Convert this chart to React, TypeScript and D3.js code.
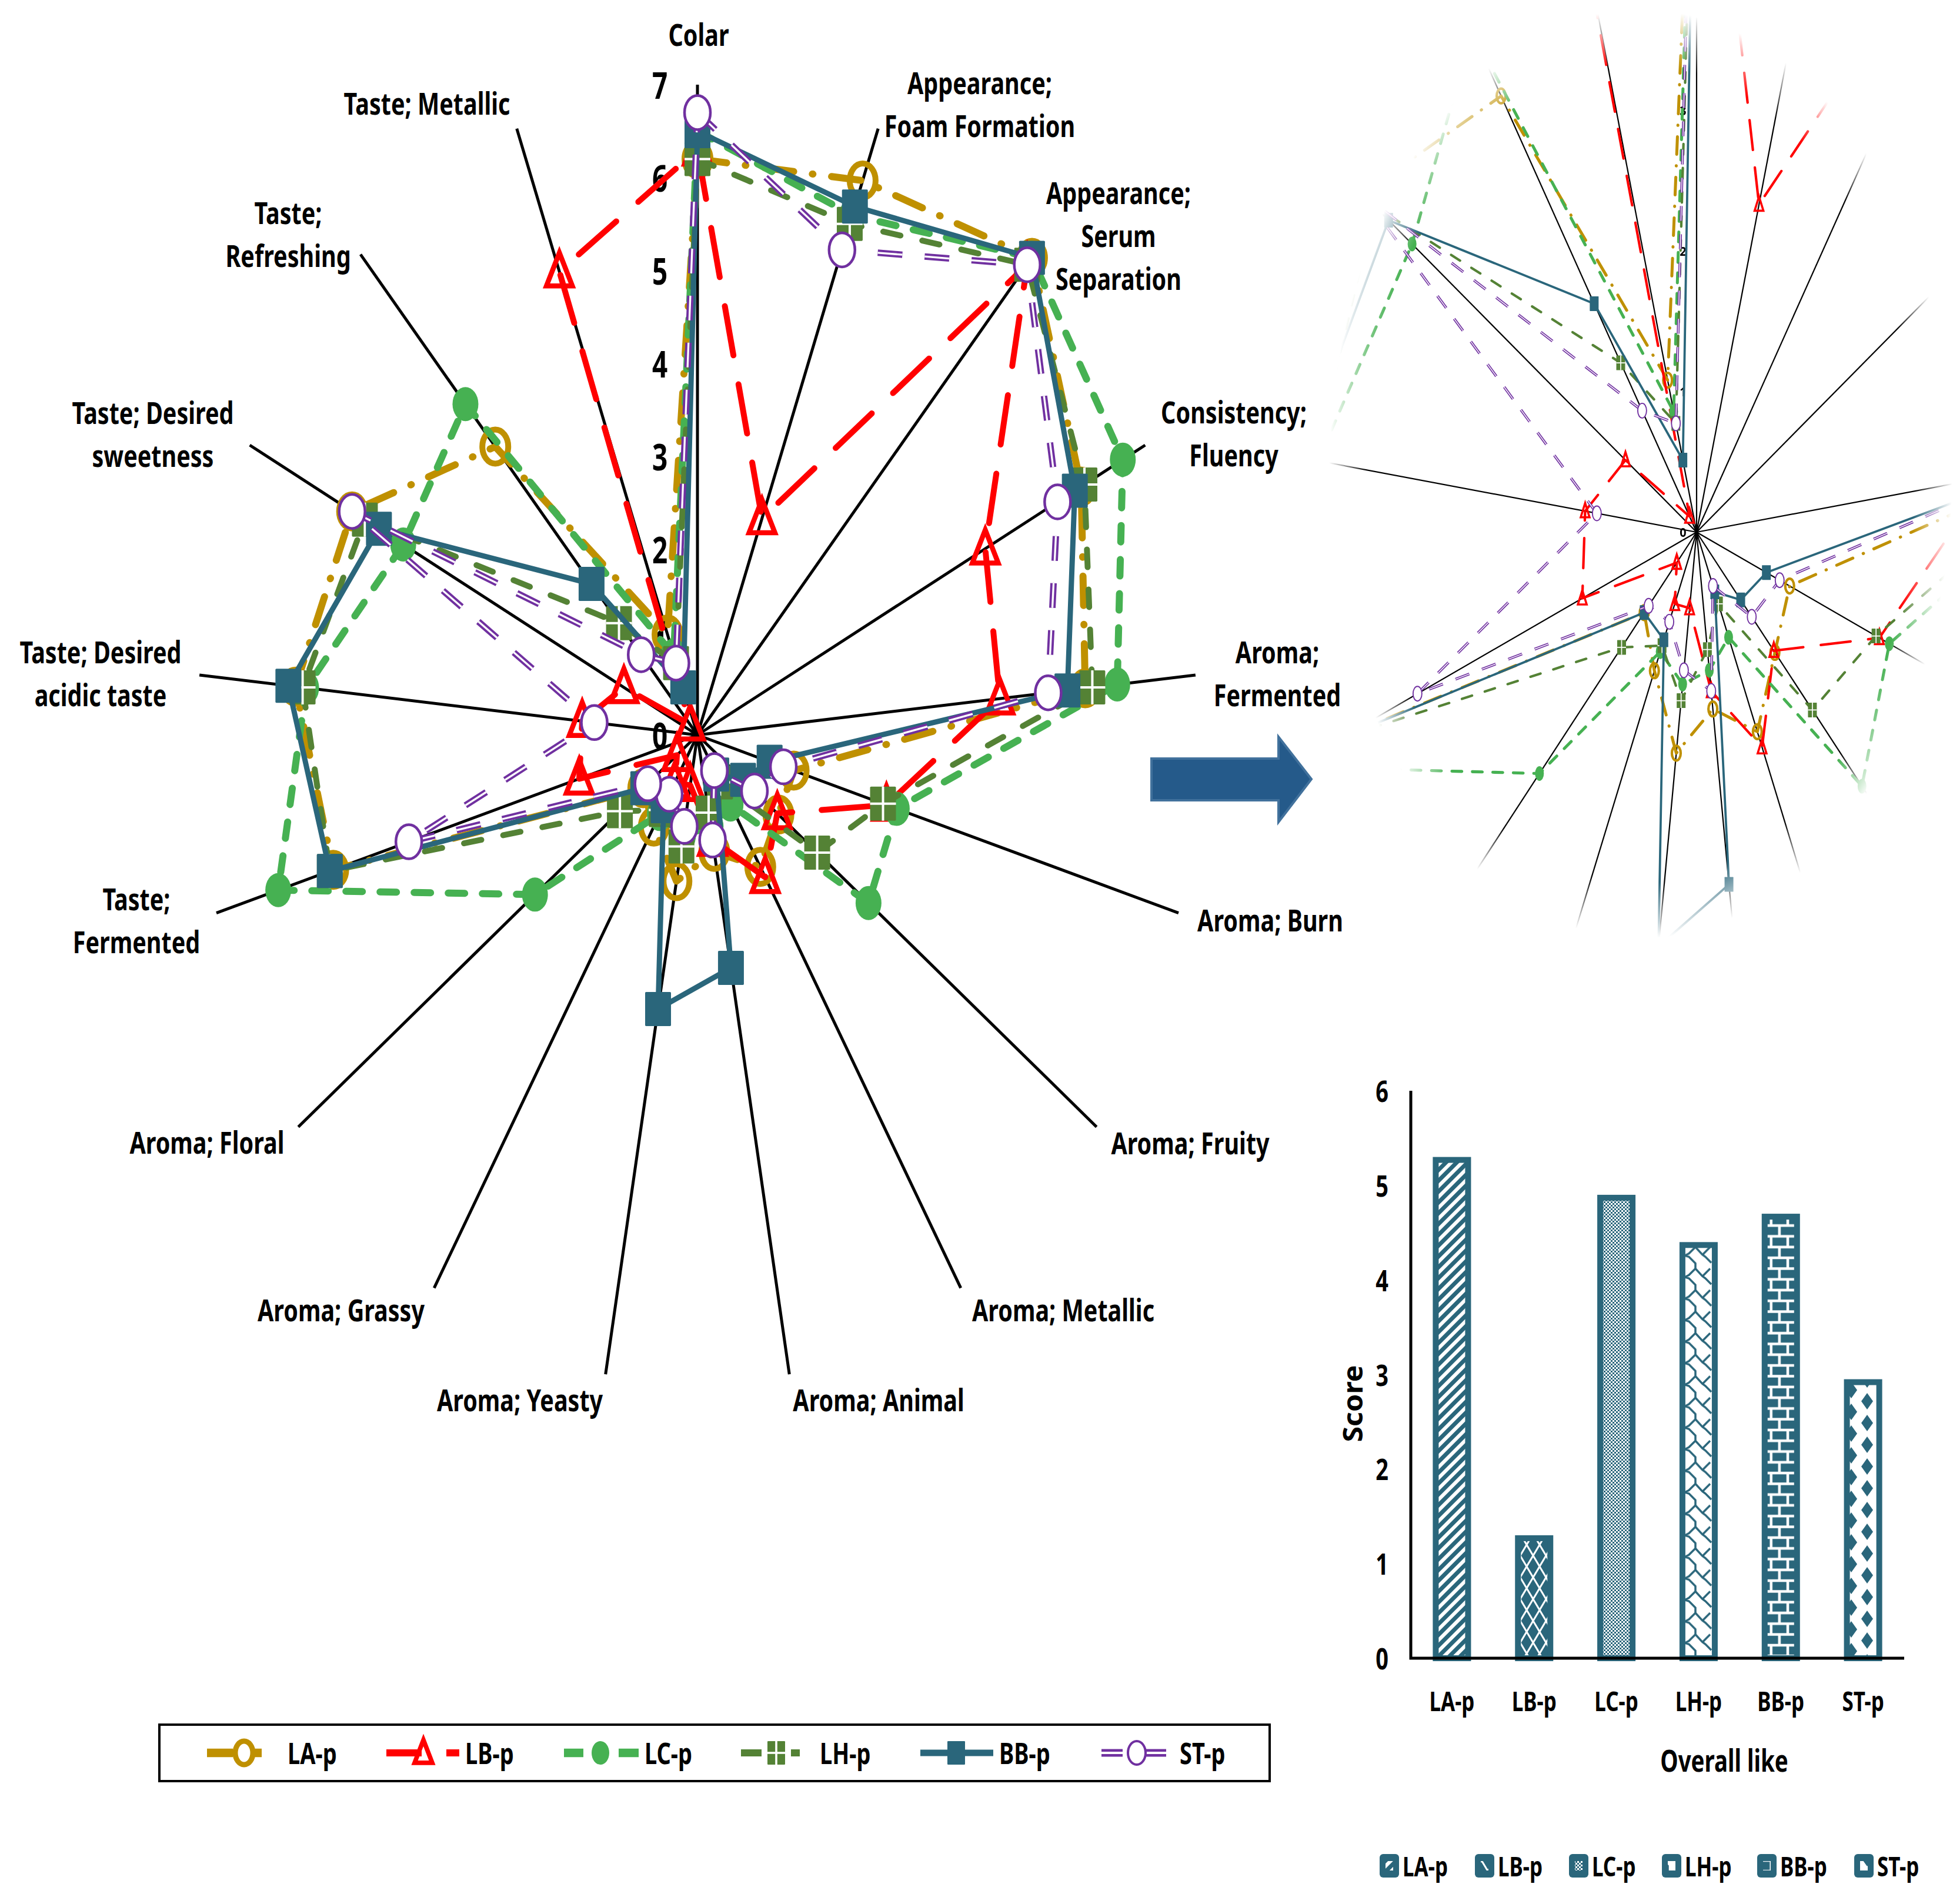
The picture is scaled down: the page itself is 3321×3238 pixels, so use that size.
import * as d3 from "d3";

const axisLabels = [
  ["Colar"],
  ["Appearance;", "Foam Formation"],
  ["Appearance;", "Serum", "Separation"],
  ["Consistency;", "Fluency"],
  ["Aroma;", "Fermented"],
  ["Aroma; Burn"],
  ["Aroma; Fruity"],
  ["Aroma; Metallic"],
  ["Aroma; Animal"],
  ["Aroma; Yeasty"],
  ["Aroma; Grassy"],
  ["Aroma; Floral"],
  ["Taste;", "Fermented"],
  ["Taste; Desired", "acidic taste"],
  ["Taste; Desired", "sweetness"],
  ["Taste;", "Refreshing"],
  ["Taste; Metallic"],
];

const seriesNames = ["LA-p", "LB-p", "LC-p", "LH-p", "BB-p", "ST-p"];

const laP = [6.2, 6.4, 6.95, 6.0, 5.45, 1.4, 1.42, 1.67, 1.28, 1.6, 1.16, 0.95, 5.3, 5.65, 5.4, 4.2, 1.16];
const lbP = [6.3, 2.5, 6.85, 4.5, 4.25, 2.75, 1.4, 1.8, 1.15, 0.55, 0.6, 0.36, 1.72, 1.62, 1.15, 0.15, 5.35];
const lcP = [6.5, 6.0, 6.95, 6.65, 5.9, 2.9, 3.0, 0.88, 1.0, 1.1, 1.0, 2.85, 6.1, 5.5, 4.6, 4.82, 0.92];
const lhP = [6.2, 5.9, 6.85, 6.05, 5.55, 2.7, 2.1, 0.6, 0.85, 1.22, 0.95, 1.36, 5.35, 5.55, 5.2, 1.63, 0.83];
const bbP = [6.5, 6.1, 6.95, 5.9, 5.2, 1.05, 0.8, 0.5, 2.55, 3.0, 0.9, 0.95, 5.35, 5.75, 4.98, 2.2, 0.55];
const stP = [6.7, 5.6, 6.85, 5.63, 4.93, 1.25, 1.0, 0.45, 1.15, 1.0, 0.75, 0.87, 4.2, 1.45, 5.4, 1.17, 0.83];

const radarTicks = [0, 1, 2, 3, 4, 5, 6, 7];

const overallLike = [5.3, 1.3, 4.9, 4.4, 4.7, 2.95];
const scoreTicks = [0, 1, 2, 3, 4, 5, 6];

const TEAL = "#2A667B";
const FONT = "'Noto Sans', sans-serif";

const styles = [
  { values: laP, color: "#BF9000", width: 12, dash: [50, 32, 1, 32], shape: "ring", keyDash: "44 34 15 40", keyFrom: -63, keyTo: 48 },
  { values: lbP, color: "#FF0000", width: 10, dash: [85, 50], shape: "triangle", keyDash: "60 42 22 40", keyFrom: -63, keyTo: 65 },
  { values: lcP, color: "#46B152", width: 12, dash: [28, 30], shape: "disc", keyDash: "33 60 34 40", keyFrom: -62, keyTo: 65 },
  { values: lhP, color: "#548235", width: 10, dash: [30, 38], shape: "cross", keyDash: "35 50 15 40", keyFrom: -60, keyTo: 40 },
  { values: bbP, color: TEAL, width: 9, dash: null, shape: "square", keyDash: undefined, keyFrom: -61, keyTo: 63 },
  { values: stP, color: "#7030A0", width: 11, dash: [42, 38], shape: "hollow", keyDash: "36 38 36 40", keyFrom: -60, keyTo: 52 },
];

// label centres, same order as axisLabels
const labelSpots: [number, number][] = [
  [1188, 58], [1666, 177], [1902, 400], [2098, 737], [2172, 1145], [2160, 1564],
  [2024, 1943], [1808, 2227], [1494, 2380], [884, 2380], [580, 2227], [352, 1942],
  [232, 1565], [171, 1145], [260, 738], [490, 398], [726, 175],
];

function Squeezed({ x, y, size, sx = 0.76, anchor = "middle", rotate = 0, children }: any) {
  return (
    <text
      transform={`translate(${x},${y}) rotate(${rotate}) scale(${sx},1)`}
      fontFamily={FONT}
      fontWeight={700}
      fontSize={size}
      textAnchor={anchor}
      dominantBaseline="central"
      fill="#000"
    >
      {children}
    </text>
  );
}

function Marker({ shape, x, y, w, h, color, sw }: any) {
  if (shape === "ring" || shape === "hollow") {
    return (
      <ellipse
        cx={x}
        cy={y}
        rx={w / 2}
        ry={h / 2}
        fill={shape === "hollow" ? "#fff" : "none"}
        stroke={color}
        strokeWidth={shape === "hollow" ? sw * 0.45 : sw}
      />
    );
  }
  if (shape === "disc") return <ellipse cx={x} cy={y} rx={w / 2} ry={h / 2} fill={color} />;
  if (shape === "triangle") {
    const d = `M${x},${y - h * 0.55}L${x + w / 2},${y + h * 0.42}L${x - w / 2},${y + h * 0.42}Z`;
    return <path d={d} fill="none" stroke={color} strokeWidth={sw * 0.85} strokeLinejoin="miter" />;
  }
  const rect = <rect x={x - w / 2} y={y - h / 2} width={w} height={h} rx={w * 0.04} fill={color} />;
  if (shape === "square") return rect;
  return (
    <g>
      {rect}
      <path d={`M${x},${y - h / 2}V${y + h / 2}M${x - w / 2},${y}H${x + w / 2}`} stroke="#fff" strokeWidth={sw * 0.4} />
    </g>
  );
}

function Radar({ cx, cy, unitX, unitY, k, mw, mh, axisWidth, tickSize, tickX, tickSx }: any) {
  const rx = d3.scaleLinear().domain([0, 7]).range([0, unitX * 7]);
  const ry = d3.scaleLinear().domain([0, 7]).range([0, unitY * 7]);
  const angle = d3
    .scalePoint<number>()
    .domain(d3.range(axisLabels.length + 1))
    .range([0, 2 * Math.PI]);
  const pos = (i: number, v: number): [number, number] => {
    const a = angle(i) as number;
    return [cx + rx(v) * Math.sin(a), cy - ry(v) * Math.cos(a)];
  };
  const line = d3.line<[number, number]>().curve(d3.curveLinearClosed);

  return (
    <g>
      {axisLabels.map((_, i) => {
        const [x, y] = pos(i, 7);
        return <line key={i} x1={cx} y1={cy} x2={x} y2={y} stroke="#000" strokeWidth={axisWidth} />;
      })}
      {radarTicks
        .filter((t) => cy - ry(t) > 30)
        .map((t) => (
          <Squeezed key={t} x={tickX} y={cy - ry(t)} size={tickSize} sx={tickSx}>
            {t}
          </Squeezed>
        ))}
      {styles.map((s, si) => {
        const pts = s.values.map((v, i) => pos(i, v));
        const d = line(pts) as string;
        const dash = s.dash ? s.dash.map((n) => n * (k < 1 ? 0.6 : 1)).join(" ") : undefined;
        return (
          <g key={si}>
            <path
              d={d}
              fill="none"
              stroke={s.color}
              strokeWidth={s.width * k}
              strokeDasharray={dash}
              strokeLinecap={s.shape === "hollow" || !s.dash ? "butt" : "round"}
              strokeLinejoin="round"
            />
            {s.shape === "hollow" && (
              <path d={d} fill="none" stroke="#fff" strokeWidth={s.width * k * 0.3} strokeDasharray={dash} />
            )}
            {pts.map((p, i) => (
              <Marker key={i} shape={s.shape} x={p[0]} y={p[1]} w={mw} h={mh} color={s.color} sw={10 * k} />
            ))}
          </g>
        );
      })}
    </g>
  );
}

function Patterns() {
  return (
    <defs>
      <pattern id="fill-0" width="13" height="13" patternUnits="userSpaceOnUse" patternTransform="rotate(45)">
        <rect width="13" height="13" fill="#fff" />
        <rect width="7" height="13" fill={TEAL} />
      </pattern>
      <pattern id="fill-1" width="22" height="37" patternUnits="userSpaceOnUse">
        <rect width="22" height="37" fill={TEAL} />
        <path d="M0,0L22,37M22,0L0,37" stroke="#fff" strokeWidth="3" />
      </pattern>
      <pattern id="fill-2" width="6" height="6" patternUnits="userSpaceOnUse">
        <rect width="6" height="6" fill="#fff" />
        <rect width="3" height="3" fill={TEAL} />
        <rect x="3" y="3" width="3" height="3" fill={TEAL} />
      </pattern>
      <pattern id="fill-3" width="47" height="36.6" patternUnits="userSpaceOnUse" patternTransform="translate(2865,2538)">
        <rect width="47" height="36.6" fill="#fff" />
        <path
          d="M0,0L7,2L18,13V22L7,33L0,36.6M18,22L30,35L35,38.6M30,-1.6L35,2L45,12M30,35L43,22"
          fill="none"
          stroke={TEAL}
          strokeWidth="3.5"
        />
      </pattern>
      <pattern id="fill-4" width="28.3" height="36.6" patternUnits="userSpaceOnUse" patternTransform="translate(3011.7,2541.7)">
        <rect width="28.3" height="36.6" fill={TEAL} />
        <path d="M0,0H28.3M0,18.3H28.3M0,36.6H28.3M0,0V18.3M28.3,0V18.3M14.15,18.3V36.6" stroke="#fff" strokeWidth="4.5" />
      </pattern>
      <pattern id="fill-5" width="54" height="37" patternUnits="userSpaceOnUse">
        <rect width="54" height="37" fill="#fff" />
        <path d="M43,1L53,15L43,29L33,15ZM16,19L26,33L16,47L6,33ZM16,-18L26,-4L16,10L6,-4Z" fill={TEAL} />
      </pattern>
      <radialGradient id="lens" cx="0.5" cy="0.5" r="0.5">
        <stop offset="0.88" stopColor="#fff" />
        <stop offset="1" stopColor="#000" />
      </radialGradient>
      <mask id="lens-mask" maskUnits="userSpaceOnUse" x="2230" y="0" width="1091" height="1650">
        <ellipse cx="2790" cy="806" rx="530" ry="790" fill="url(#lens)" />
      </mask>
    </defs>
  );
}

function OverallBars() {
  const x = d3.scaleBand().domain(seriesNames).range([2399, 3238]).paddingInner(0.535).paddingOuter(0.2675);
  const y = d3.scaleLinear().domain([0, 6]).range([2820, 1855]);
  const legendX = [2346, 2508, 2668, 2826, 2988, 3153];
  return (
    <g>
      {seriesNames.map((name, i) => (
        <rect
          key={name}
          x={(x(name) as number) + 5}
          y={y(overallLike[i]) + 5}
          width={x.bandwidth() - 10}
          height={y(0) - y(overallLike[i]) - 5}
          fill={`url(#fill-${i})`}
          stroke={TEAL}
          strokeWidth={10}
        />
      ))}
      <path d={`M2399,${y(6)}V${y(0)}H3238`} fill="none" stroke="#000" strokeWidth={5} />
      {scoreTicks.map((t) => (
        <Squeezed key={t} x={2350} y={y(t)} size={50}>
          {t}
        </Squeezed>
      ))}
      {seriesNames.map((name) => (
        <Squeezed key={name} x={(x(name) as number) + x.bandwidth() / 2} y={2892} size={46}>
          {name}
        </Squeezed>
      ))}
      <Squeezed x={2932} y={2993} size={52} sx={0.74}>
        Overall like
      </Squeezed>
      <Squeezed x={2299} y={2387} size={46} rotate={-90} sx={1.05}>
        Score
      </Squeezed>
      {seriesNames.map((name, i) => (
        <g key={name}>
          <rect x={legendX[i]} y={3153} width={33} height={40} rx={6} fill={TEAL} />
          <rect x={legendX[i] + 10} y={3165} width={13} height={16} fill={`url(#fill-${i})`} />
          <Squeezed x={legendX[i] + 39} y={3173} size={46} anchor="start">
            {name}
          </Squeezed>
        </g>
      ))}
    </g>
  );
}

function RadarLegend() {
  const keyX = [415, 720, 1021, 1320, 1626, 1933];
  const textX = [489, 791, 1096, 1394, 1699, 2006];
  const keyY = 2981;
  return (
    <g>
      <rect x={271} y={2933} width={1888} height={96} fill="none" stroke="#000" strokeWidth={4} />
      {styles.map((s, i) => (
        <g key={i}>
          <line
            x1={keyX[i] + s.keyFrom}
            x2={keyX[i] + s.keyTo}
            y1={keyY}
            y2={keyY}
            stroke={s.color}
            strokeWidth={s.width * 1.2}
            strokeDasharray={s.keyDash}
          />
          {s.shape === "hollow" && (
            <line x1={keyX[i] + s.keyFrom} x2={keyX[i] + s.keyTo} y1={keyY} y2={keyY} stroke="#fff" strokeWidth={4} strokeDasharray={s.keyDash} />
          )}
          <Marker shape={s.shape} x={keyX[i]} y={keyY} w={30} h={40} color={s.color} sw={9} />
          <Squeezed x={textX[i]} y={keyY} size={50} anchor="start">
            {seriesNames[i]}
          </Squeezed>
        </g>
      ))}
    </g>
  );
}

export default function App() {
  return (
    <svg width={3321} height={3238} style={{ position: "absolute", left: 0, top: 0, background: "#fff" }}>
      <Patterns />
      <Radar
        cx={1186}
        cy={1250}
        unitX={121.5}
        unitY={158}
        k={1}
        mw={44}
        mh={58}
        axisWidth={5}
        tickSize={62}
        tickX={1122}
        tickSx={0.74}
      />
      {axisLabels.map((lines, i) =>
        lines.map((t, j) => (
          <Squeezed key={t + i} x={labelSpots[i][0]} y={labelSpots[i][1] + (j - (lines.length - 1) / 2) * 73} size={52}>
            {t}
          </Squeezed>
        )),
      )}
      <RadarLegend />
      <path d="M1958,1290H2174V1253L2230,1325L2174,1398V1361H1958Z" fill="#255A8A" stroke="#41719C" strokeWidth={4} />
      <g mask="url(#lens-mask)">
        <Radar
          cx={2885}
          cy={905}
          unitX={117.5}
          unitY={239}
          k={0.42}
          mw={15}
          mh={25}
          axisWidth={2.2}
          tickSize={22}
          tickX={2862}
          tickSx={0.9}
        />
      </g>
      <OverallBars />
    </svg>
  );
}
